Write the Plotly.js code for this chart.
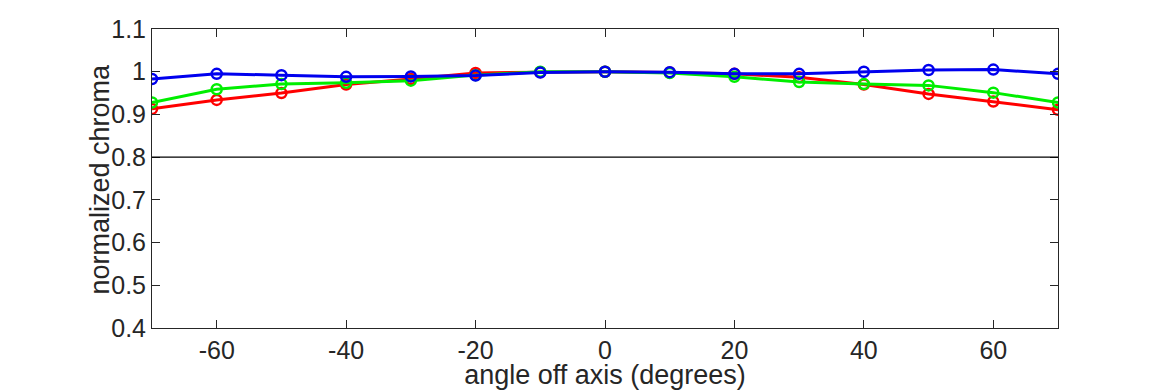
<!DOCTYPE html>
<html>
<head>
<meta charset="utf-8">
<script src="https://cdn.plot.ly/plotly-3.0.1.min.js"></script>
<style>html,body{margin:0;padding:0;background:#fff;}#chart{width:1170px;height:390px;}</style>
</head>
<body>
<div id="chart"></div>
<script>
const angles = [-70,-60,-50,-40,-30,-20,-10,0,10,20,30,40,50,60,70];
const redValues   = [0.913,0.934,0.950,0.970,0.983,0.997,0.999,1.000,0.998,0.995,0.987,0.970,0.948,0.930,0.911];
const greenValues = [0.928,0.959,0.971,0.974,0.979,0.992,1.000,1.000,0.997,0.988,0.976,0.971,0.968,0.951,0.928];
const blueValues  = [0.983,0.995,0.992,0.988,0.989,0.991,0.998,1.000,0.999,0.995,0.995,1.000,1.004,1.005,0.995];
const xTicks = [-60,-40,-20,0,20,40,60];
const xTickLabels = ['-60','-40','-20','0','20','40','60'];
const yTicks = [0.4,0.5,0.6,0.7,0.8,0.9,1,1.1];
const yTickLabels = ['0.4','0.5','0.6','0.7','0.8','0.9','1','1.1'];
const xTitle = 'angle off axis (degrees)';
const yTitle = 'normalized chroma';

const FONT = 'Liberation Sans, Arial, sans-serif';
function series(y, color){
  return {x: angles, y: y, type:'scatter', mode:'lines+markers',
    line:{color:color, width:3},
    marker:{symbol:'circle-open', size:10, color:color, line:{width:2.5, color:color}},
    hoverinfo:'skip', showlegend:false};
}
const data = [series(redValues,'#ff0000'), series(greenValues,'#00ee00'), series(blueValues,'#0000ee')];
const axisCommon = {showgrid:false, zeroline:false, showline:true, linecolor:'#262626', linewidth:1,
  mirror:'ticks', ticks:'inside', ticklen:8, tickcolor:'#262626', tickwidth:1,
  tickfont:{family:FONT, size:25, color:'#262626'}};
const layout = {
  width:1170, height:390,
  margin:{l:152, r:112, t:29, b:62},
  paper_bgcolor:'#ffffff', plot_bgcolor:'#ffffff',
  xaxis: Object.assign({}, axisCommon, {range:[-70,70], tickvals:xTicks, ticktext:xTickLabels,
    title:{text:xTitle, standoff:8, font:{family:FONT, size:27, color:'#262626'}}}),
  yaxis: Object.assign({}, axisCommon, {range:[0.4,1.1], tickvals:yTicks, ticktext:yTickLabels}),
  annotations:[{text:yTitle, xref:'paper', yref:'paper', x:-0.0574, y:0.5, xanchor:'center', yanchor:'middle',
    textangle:-90, showarrow:false, font:{family:FONT, size:27, color:'#262626'}}],
  shapes:[{type:'line', xref:'paper', x0:0, x1:1, yref:'y', y0:0.8, y1:0.8, line:{color:'#000000', width:1.3}}]
};
Plotly.newPlot('chart', data, layout, {staticPlot:true, displayModeBar:false});
</script>
</body>
</html>
